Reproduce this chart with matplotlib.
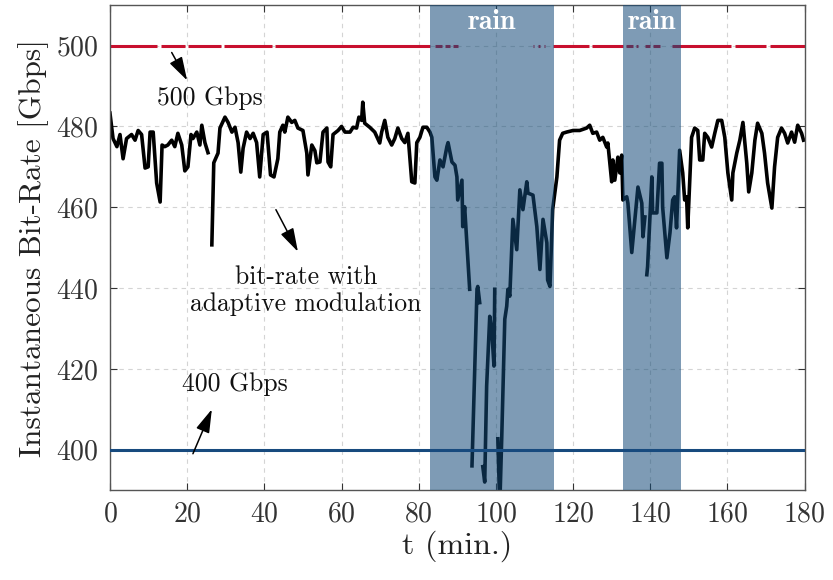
import numpy as np
import matplotlib
matplotlib.use("Agg")
import matplotlib.pyplot as plt

nan = np.nan

# ---- data ----
t_min = [0, 0.8, 1.8, 2.6, 3.4, 4.3, 5.6, 6.5, 7.3, 8.2, 9.1, 9.9, 10.4, 11.2, 12.1, 13.0,
         13.5, 14.2, 15.0, 16.0, 16.8, 17.6, 18.6, 19.4, 20.2, 21.0, 21.5, 22.5, 23.3, 23.8,
         24.6, 25.4, 25.9, 26.4, 26.9, 28.0, 28.5, 29.8, 30.6, 31.6, 32.4, 33.2, 33.9, 34.5,
         35.4, 36.3, 37.1, 38.0, 38.8, 39.7, 40.7, 41.6, 42.5, 43.5, 44.0, 44.8, 45.3, 46.1,
         47.1, 47.9, 48.7, 50.0, 51.0, 51.3, 52.3, 53.1, 53.6, 54.4, 55.2, 56.2, 56.5, 57.2,
         57.8, 59.1, 60.0, 60.9, 62.2, 63.0, 63.9, 64.5, 65.2, 65.5, 66.0, 67.3, 68.6, 69.9,
         70.4, 71.2, 72.0, 73.0, 73.8, 74.6, 75.6, 76.4, 77.2, 78.2, 79.0, 79.5, 80.3, 81.1,
         82.1, 82.9, 83.4, 84.2, 84.7, 85.5, 86.3, 87.3, 87.6, 88.6, 89.4, 89.9, 90.1, 91.2,
         91.4, 91.9, 93.2, 93.5, 93.8, 95.1, 95.3, 95.8, 96.2, 96.6, 97.1, 97.6, 98.4, 98.9,
         99.5, 99.7, 100.1, 100.5, 101.0, 101.5, 102.3, 102.8, 103.1, 103.6, 104.4, 105.4,
         106.2, 107.0, 108.0, 108.3, 109.6, 110.6, 111.4, 112.2, 113.2, 113.4, 114.0, 114.7,
         115.8, 116.5, 117.3, 118.3, 120.0, 121.7, 123.5, 124.3, 125.1, 126.1, 126.9, 127.7,
         128.7, 129.0, 130.0, 130.3, 130.8, 131.6, 132.1, 132.6, 132.9, 133.9, 134.2, 135.2,
         136.0, 136.8, 137.8, 138.1, 138.6, 138.9, 139.1, 139.3, 140.4, 140.6, 141.7, 142.4,
         143.0, 143.2, 144.3, 145.1, 145.8, 146.3, 146.8, 147.6, 148.4, 148.9, 149.4, 149.7,
         150.7, 151.5, 152.3, 152.8, 153.6, 154.1, 154.9, 155.9, 156.7, 157.5, 158.5, 159.3,
         160.1, 161.1, 161.4, 162.4, 163.2, 164.0, 165.0, 165.5, 166.3, 167.1, 167.8, 168.9,
         169.6, 170.4, 171.5, 172.2, 173.0, 174.0, 174.8, 175.6, 176.6, 177.4, 178.2, 179.2,
         179.7]
bitrate_gbps = [483.3, 477, 475, 478, 472, 477, 478, 476.6, 479, 478, 469.7, 470, 478.6, 478.6,
                466, 461.3, 475.4, 475, 475.4, 476.6, 475, 478.3, 475.4, 469, 470, 478, 477,
                478.6, 475.4, 480.3, 476, 473.5, nan, 450.7, 471, 473.4, 479.6, 482.3, 481,
                478.6, 479.8, 476, 468.7, 474.6, 478.6, 477, 478.3, 476, 467.5, 478, 478.6,
                468, 467.5, 472, 478.6, 480.3, 478.6, 482.3, 481, 481.5, 479.6, 479, 473.4,
                468, 475.4, 474, 471, 471.2, 478.6, 479.6, 471.2, 470, 478, 479, 480, 478.6,
                478.6, 479.8, 479.6, 482.3, 481.5, 486, 480.8, 479.8, 478.6, 475.9, 478.6,
                481.5, 477.3, 475.4, 477, 479.6, 477, 476, 478.3, 466.3, 466, 476, 477.3,
                479.8, 479.8, 478.6, 477.3, 467.5, 466.7, 471.7, 470, 475, 476, 471.2, 470.4,
                467.5, 461.8, 466.7, 455.2, 460.1, 439.7, nan, 396, 439.7, 440.4, 436.4, nan,
                395.8, 392, 415.8, 433, 429.8, 420.7, 439.7, nan, 402.7, 386, 402.7, 432.3,
                435.5, 439.7, 438, 457, 449.5, 464.3, 459.4, 466.3, 463.5, 463, 455.2, 444.6,
                457, 451.2, 442, 440.4, 459.4, 467.5, 476.6, 478.3, 478.6, 479, 479, 479.6,
                480.3, 478.3, 478.6, 476.6, 477.3, 474.9, 475.9, 466.3, 471.7, 466.7, 472.4,
                468.5, 472.9, 461.8, 462.6, 461, 448.8, 456.9, 465, 461, 452.7, 457.6, nan,
                443.3, 445.3, 467.5, 458.6, 458.6, 470.9, 470.9, 460, 447.5, 453.7, 461.8,
                462.6, 454.9, 474.1, 468.5, 461.8, 462.6, 454.9, 477.3, 479.6, 479, 471.7,
                471.7, 478.3, 477.3, 474.9, 478.3, 481.5, 481.5, 477.3, 468.5, 461.8, 468.5,
                473.4, 476.6, 481, 470.9, 463.8, 468.5, 476.6, 480.8, 478.3, 473.4, 466,
                459.8, 470, 477.3, 479.6, 478.3, 475.9, 478.6, 476.1, 480.3, 478.3, 476.6]

# segments (start, end) in minutes where the 500 Gbps reference is drawn
ref500_segments = [(0, 12.3), (13.2, 19.4), (20.1, 28.7), (29.6, 41.9), (42.7, 83.0),
                   (84.2, 86.0), (86.8, 88.0), (88.8, 90.3), (109.5, 109.8), (111.0, 111.3),
                   (112.5, 112.8), (114.7, 124.0), (125.0, 132.8), (133.8, 135.5),
                   (136.4, 136.8), (138.6, 139.9), (140.7, 142.6), (145.7, 161.0),
                   (161.9, 170.1), (170.9, 180)]
ref500_level = 500
ref400_level = 400
rain_periods = [(83, 115), (133, 148)]
rain_label = "rain"

xticks = list(range(0, 181, 20))
yticks = list(range(400, 501, 20))

# ---- style ----
plt.rcParams['font.family'] = 'serif'
plt.rcParams['font.serif'] = ['cmr10', 'DejaVu Serif']
plt.rcParams['mathtext.fontset'] = 'cm'
plt.rcParams['axes.formatter.use_mathtext'] = True

fig = plt.figure(figsize=(8.33, 5.8), dpi=100)
ax = fig.add_axes([0.132, 0.155, 0.834, 0.836])

# red 500 Gbps line segments
for s, e in ref500_segments:
    ax.plot([s, e], [ref500_level, ref500_level], color='#c8102e', lw=2.2,
            solid_capstyle='butt', zorder=2)

# bit-rate curve
ax.plot(t_min, bitrate_gbps, color='black', lw=2.6, zorder=2)

# rain shading (on top, semi-transparent)
for s, e in rain_periods:
    ax.axvspan(s, e, color=(0.08, 0.29, 0.47), alpha=0.55, lw=0, zorder=3)
    ax.text((s + e) / 2, 505.8, rain_label, color='white', fontsize=20,
            family='cmb10', ha='center', va='center', zorder=5)

# 400 Gbps line
ax.axhline(ref400_level, color='#174a7e', lw=2.2, zorder=4)

ax.set_xlim(0, 180)
ax.set_ylim(390, 510)
ax.set_xticks(xticks)
ax.set_yticks(yticks)
ax.grid(True, ls=(0, (4, 4)), color='#d4d4d4', lw=0.8, zorder=0)
ax.set_axisbelow(True)
ax.tick_params(direction='in', top=True, right=True, length=5, width=0.8,
               labelsize=20, colors='#333333', pad=8)
for sp in ax.spines.values():
    sp.set_color('#555555')
    sp.set_linewidth(1.0)

ax.set_xlabel('t (min.)', fontsize=23, color='#222222', labelpad=2)
ax.set_ylabel('Instantaneous Bit-Rate [Gbps]', fontsize=22.5, color='#222222', labelpad=5)

# annotations
arrow_kw = dict(arrowstyle='-|>,head_length=0.9,head_width=0.27', color='black', lw=1.1,
                shrinkA=0, shrinkB=0, mutation_scale=16)
ax.annotate('', xy=(20.0, 491.4), xytext=(16.0, 498.3), arrowprops=arrow_kw, zorder=6)
ax.text(25.9, 487.0, '500 Gbps', fontsize=18.5, ha='center', va='center', color='#111111')

ax.annotate('', xy=(48.7, 449.0), xytext=(43.0, 459.4), arrowprops=arrow_kw, zorder=6)
ax.text(50.8, 439.4, 'bit-rate with\nadaptive modulation', fontsize=18.5, ha='center',
        va='center', color='#111111', linespacing=1.2)

ax.annotate('', xy=(26.4, 410.0), xytext=(21.5, 399.0), arrowprops=arrow_kw, zorder=6)
ax.text(32.4, 416.3, '400 Gbps', fontsize=18.5, ha='center', va='center', color='#111111')

fig.savefig('out.png', dpi=100)
